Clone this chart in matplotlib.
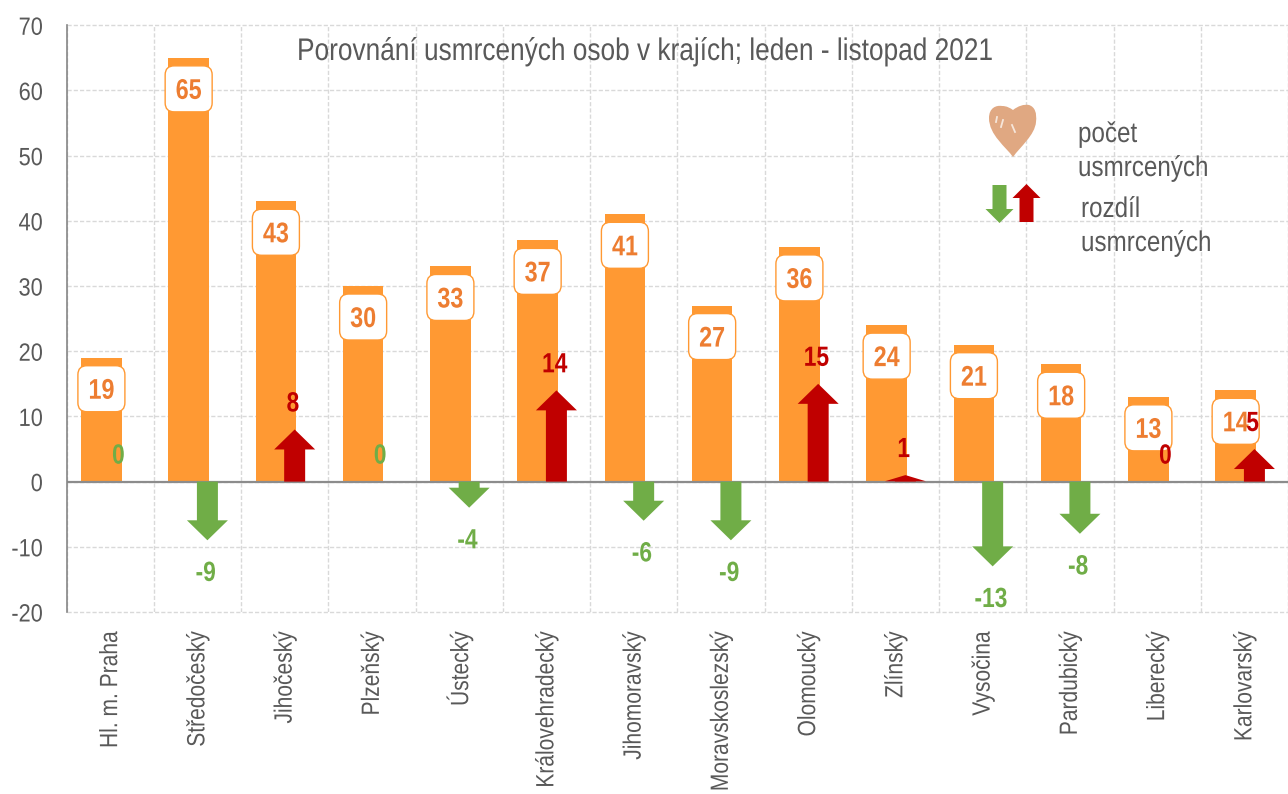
import matplotlib
matplotlib.use("Agg")
import matplotlib.pyplot as plt
from matplotlib.patches import FancyBboxPatch, Polygon, PathPatch
from matplotlib.path import Path
from matplotlib.patheffects import AbstractPathEffect
from matplotlib.transforms import Affine2D, Bbox

plt.rcParams["font.family"] = ["Liberation Sans", "DejaVu Sans"]
plt.rcParams["axes.unicode_minus"] = False

regions = ["Hl. m. Praha", "Středočeský", "Jihočeský", "Plzeňský", "Ústecký",
           "Královehradecký", "Jihomoravský", "Moravskoslezský", "Olomoucký",
           "Zlínský", "Vysočina", "Pardubický", "Liberecký", "Karlovarský"]
deaths = [19, 65, 43, 30, 33, 37, 41, 27, 36, 24, 21, 18, 13, 14]
diffs = [0, -9, 8, 0, -4, 14, -6, -9, 15, 1, -13, -8, 0, 5]
zero_label_up = [False, False, False, False, False, False, False, False, False,
                 False, False, False, True, False]
yticks = [-20, -10, 0, 10, 20, 30, 40, 50, 60, 70]

ORANGE, LABEL, GREEN, RED, GREY = "#FF9933", "#ED7D31", "#70AD47", "#C00000", "#595959"


class Condense(AbstractPathEffect):
    """Narrow a real text about its own anchor (no narrow font is installed)."""

    def __init__(self, text, fx=1.0, fy=1.0):
        super().__init__()
        self.text, self.fx, self.fy = text, fx, fy

    def matrix(self):
        ax_, ay_ = self.text.get_transform().transform(self.text.get_unitless_position())
        return Affine2D().translate(-ax_, -ay_).scale(self.fx, self.fy).translate(ax_, ay_)

    def draw_path(self, renderer, gc, tpath, affine, rgbFace=None):
        renderer.draw_path(gc, tpath, affine + self.matrix(), rgbFace)


def condense(text, f=0.82, vertical=False):
    eff = Condense(text, fx=1.0 if vertical else f, fy=f if vertical else 1.0)
    text.set_path_effects([eff])
    orig = text.get_window_extent

    def extent(renderer=None, dpi=None):
        bb = orig(renderer, dpi)
        return Bbox(eff.matrix().transform(bb.get_points()))

    text.get_window_extent = extent
    return text


W, H = 1288, 794
fig = plt.figure(figsize=(W / 100, H / 100), dpi=100, facecolor="white")
L, R, T, B = 66.5, 1288, 25.3, 612
ax = fig.add_axes([L / W, 1 - B / H, (R - L) / W, (B - T) / H])
ax.set_xlim(0, len(regions))
ax.set_ylim(-20, 70)
xs = [i + 0.5 for i in range(len(regions))]

for s in ("top", "right", "bottom"):
    ax.spines[s].set_visible(False)
ax.spines["left"].set_color("#868686")
ax.spines["left"].set_linewidth(1.2)
ax.set_axisbelow(True)
ax.set_yticks(yticks)
ax.set_xticks(xs)
ax.set_xticklabels(regions, rotation=90, ha="center", va="top", fontsize=18, color=GREY)
ax.set_xticks(range(len(regions) + 1), minor=True)
ax.tick_params(axis="x", which="both", length=0, pad=14)
ax.tick_params(axis="y", length=0, pad=17, labelsize=18, labelcolor=GREY)
ax.grid(axis="y", color="#D9D9D9", linestyle=(0, (3, 1.5)), linewidth=1, clip_on=False)
ax.grid(axis="x", which="minor", color="#D9D9D9", linestyle=(0, (3, 1.5)), linewidth=1)
for t in ax.get_xticklabels():
    condense(t, 0.84, vertical=True)
for t in ax.get_yticklabels():
    condense(t, 0.87)

bx = [x - 0.1 for x in xs]
ax.bar(bx, deaths, width=0.465, color=ORANGE, zorder=2)
ax.axhline(0, color="#8C8C8C", linewidth=1.6, zorder=2.5)

# arrows built from the data values
px_y = (B - T) / 90
px_x = (R - L) / len(regions)
half_head, half_shaft, head_len = 20.5 / px_x, 10.5 / px_x, 20 / px_y
for x, d in zip(xs, diffs):
    if d == 0:
        continue
    cx = x + 0.115
    sign = 1 if d > 0 else -1
    hl = head_len if abs(d) >= 3 else abs(d) * 0.95
    neck = d - sign * hl
    pts = [(cx - half_shaft, 0), (cx - half_shaft, neck), (cx - half_head, neck),
           (cx, d), (cx + half_head, neck), (cx + half_shaft, neck), (cx + half_shaft, 0)]
    ax.add_patch(Polygon(pts, closed=True, facecolor=RED if d > 0 else GREEN,
                         edgecolor="none", zorder=3))

# value labels
bw, bh = 47 / px_x, 46 / px_y
for x, v in zip(bx, deaths):
    y = v - 4.75
    r = 9 / px_x
    ax.add_patch(FancyBboxPatch((x - bw / 2, y - bh / 2), bw, bh,
                                boxstyle=f"round,pad=0,rounding_size={r}",
                                mutation_aspect=px_x / px_y,
                                facecolor="white", edgecolor=ORANGE, linewidth=1, zorder=4))
    condense(ax.text(x, y, str(v), ha="center", va="center_baseline", fontsize=20.5,
                     fontweight="bold", color=LABEL, zorder=5))

for x, d, up in zip(xs, diffs, zero_label_up):
    col = RED if (d > 0 or up) else GREEN
    y = d + 4.3 if d >= 0 else d - 4.7
    condense(ax.text(x + 0.095, y, str(d), ha="center", va="center_baseline", fontsize=20,
                     fontweight="bold", color=col, zorder=6))

# pixel-space overlay for title and legend
pix = Affine2D().scale(1 / W, -1 / H).translate(0, 1) + fig.transFigure
condense(fig.text(645, 52, "Porovnání usmrcených osob v krajích; leden - listopad 2021",
                  transform=pix, ha="center", va="center", fontsize=22.5, color=GREY, zorder=10),
         0.84)
for px, py, s in [(1078, 135, "počet"), (1078, 169, "usmrcených"),
                  (1081, 210, "rozdíl"), (1081, 244, "usmrcených")]:
    condense(fig.text(px, py, s, transform=pix, ha="left", va="center", fontsize=20.5,
                      color=GREY, zorder=10), 0.85)

heart = Path([(1013, 157), (1006, 147), (989, 135), (989, 118),
              (989, 108), (996, 105), (1002, 106),
              (1007, 106), (1010, 108), (1013, 110),
              (1018, 106), (1024, 104), (1029, 105),
              (1035, 107), (1037, 113), (1036, 122),
              (1035, 135), (1020, 147), (1013, 157)],
             [Path.MOVETO] + [Path.CURVE4] * 18)
fig.add_artist(PathPatch(heart, transform=pix, facecolor="#E0A882", edgecolor="none", zorder=10))
for a, b in [((997, 117), (996, 122)), ((1003, 120), (1001, 127)), ((1012, 125), (1015, 132))]:
    fig.add_artist(plt.Line2D([a[0], b[0]], [a[1], b[1]], transform=pix, color="#F6E6DA",
                              linewidth=1.3, zorder=11))


def legend_arrow(cx, tip, base, col):
    s = 1 if base > tip else -1
    neck = tip + s * 14
    pts = [(cx - 7, base), (cx - 7, neck), (cx - 14, neck), (cx, tip),
           (cx + 14, neck), (cx + 7, neck), (cx + 7, base)]
    fig.add_artist(Polygon(pts, closed=True, transform=pix, facecolor=col,
                           edgecolor="none", zorder=10))


legend_arrow(999.5, 223, 185, GREEN)
legend_arrow(1026.5, 184, 222, RED)

fig.savefig("out.png", dpi=100)
